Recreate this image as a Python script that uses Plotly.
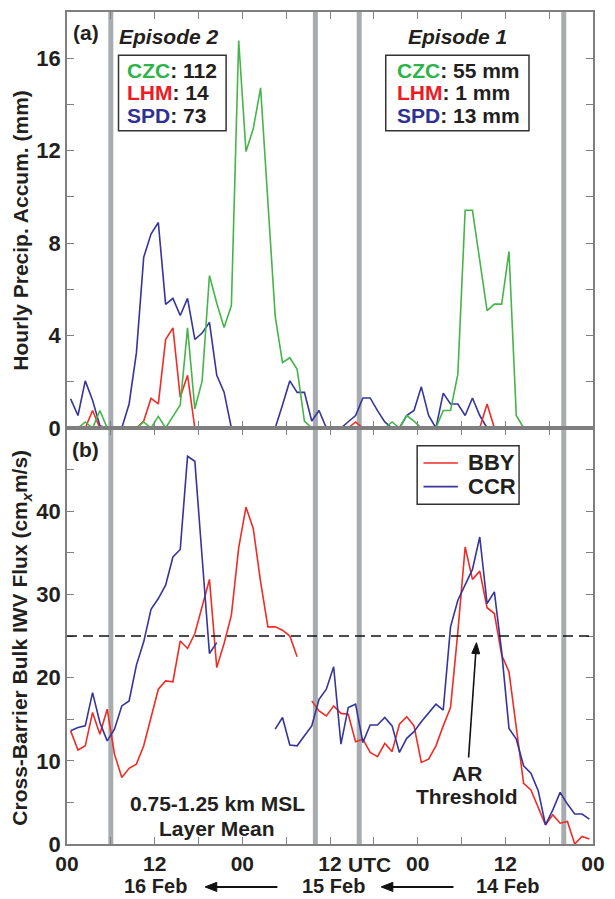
import plotly.graph_objects as go
from plotly.subplots import make_subplots

# ---------------- data ----------------
# time axis: hours before 17 Feb 00 UTC (time runs right -> left); values are hourly, centred on the half hour
hours = [k + 0.5 for k in range(72)]

x_tickvals = [0, 12, 24, 36, 48, 60, 72]
x_ticktext = ["00", "12", "00", "12", "00", "12", "00"]

# Panel (a): hourly precipitation accumulation (mm)
spd = [1.26, 0.54, 2.04, 1.2, 0.1, 0, 0, 0, 1.04, 3.25,
       7.39, 8.39, 8.89, 5.35, 5.61, 4.87, 5.61, 3.83, 4.11, 4.57,
       2.28, 1.55, 0, 0, 0, 0, 0, 0, 0, 1.0,
       2.04, 1.54, 1.54, 0.3, 0.76, 0, 0, 0, 0.27, 0.54,
       1.3, 1.3, 0.75, 0.26, 0, 0, 0.54, 0.76, 1.78, 0.54,
       0, 1.51, 1.04, 1.04, 0.54, 1.3, 0.54, 0, 0, 0,
       0, 0, 0, 0, 0, 0, 0, 0, 0, 0,
       0, 0]
lhm = [0, 0, 0, 0.76, 0, 0, 0, 0, 0, 0,
       0.3, 1.28, 1.04, 3.83, 4.33, 1.33, 2.28, 0, 0, 0,
       0, 0, 0, 0, 0, 0, 0, 0, 0, 0,
       0, 0, 0, 0, 0, 0, 0, 0, 0, 0.26,
       0, 0, 0, 0, 0, 0, 0, 0, 0, 0,
       0, 0, 0, 0, 0, 0, 0, 1.04, 0, 0,
       0, 0, 0, 0, 0, 0, 0, 0, 0, 0,
       0, 0]
czc = [0, 0, 0.26, 0, 0.76, 0, 0, 0, 0, 0,
       0.26, 0, 0.5, 0, 0.5, 1.0, 4.33, 0.83, 2.04, 6.6,
       5.4, 4.35, 5.3, 16.77, 11.96, 12.96, 14.72, 9.8, 4.83, 2.83,
       3.04, 2.54, 0.3, 0, 0, 0, 0, 0, 0, 0,
       0, 0, 0, 0, 0.26, 0, 0.54, 0.3, 0, 0,
       0, 0.76, 0.76, 2.33, 9.42, 9.42, 7.3, 5.08, 5.36, 5.36,
       7.64, 0.54, 0, 0, 0, 0, 0, 0, 0, 0,
       0, 0]

# Panel (b): cross-barrier bulk IWV flux (cm x m/s)
bby = [13.6, 11.3, 11.8, 15.8, 13.2, 16.2, 10.8, 8.0, 9.1, 9.6,
       11.8, 15.2, 18.6, 19.6, 19.5, 24.4, 23.5, 25.3, 28.5, 31.8,
       21.2, 24.1, 27.5, 35.6, 40.5, 37.9, 31.5, 26.1, 26.1, 25.7,
       25.0, 22.5, None, 17.2, 16.0, 15.4, 16.6, 15.7, 15.6, 12.3,
       12.6, 11.0, 10.5, 12.1, 11.1, 14.4, 15.3, 14.2, 9.8, 10.2,
       11.8, 14.2, 16.4, 25.5, 35.7, 31.8, 32.8, 28.4, 27.7, 22.7,
       20.7, 14.0, 7.3, 6.5, 4.3, 2.3, 3.5, 2.5, 2.7, 0.0,
       0.9, 0.6]
ccr = [13.6, 14.0, 14.2, 18.2, 14.6, 12.4, 13.8, 16.6, 17.2, 21.5,
       24.3, 28.2, 29.5, 31.1, 34.5, 35.4, 46.6, 46.0, 34.4, 22.9,
       24.2, None, None, None, None, None, None, None, 13.8, 15.2,
       11.9, 11.8, 13.0, 14.2, 17.4, 18.6, 21.3, 12.0, 16.4, 16.8,
       12.2, 14.3, 14.3, 15.2, 14.2, 11.0, 12.7, 13.5, 14.7, 15.8,
       16.8, 16.1, 26.1, 29.3, 31.1, 33.0, 36.9, 28.9, 30.3, 23.1,
       13.9, 12.6, 9.4, 8.5, 6.4, 2.3, 4.1, 6.2, 4.8, 3.6,
       3.6, 3.0]

ar_threshold = 25
grey_bars = [6, 34, 40, 68]

ep2_totals = [("CZC", "112"), ("LHM", "14"), ("SPD", "73")]
ep1_totals = [("CZC", "55 mm"), ("LHM", "1 mm"), ("SPD", "13 mm")]
date_labels = [("16 Feb", 12.1), ("15 Feb", 36.5), ("14 Feb", 60.3)]

# ---------------- style ----------------
FONT = "Liberation Sans"
TXT = "#231f20"
GREEN, RED, BLUE = "#45b549", "#ef2d26", "#35359b"
LBL = {"CZC": "#2db34a", "LHM": "#ed1c24", "SPD": "#2e3192"}
AXC = "#7f7f7f"
BARC = "#a8acaf"
ARR = "#111111"

fig = make_subplots(rows=2, cols=1, shared_xaxes=False, vertical_spacing=0)

for name, ys, col in [("SPD", spd, BLUE), ("LHM", lhm, RED), ("CZC", czc, GREEN)]:
    fig.add_trace(go.Scatter(x=hours, y=ys, mode="lines", name=name,
                             line=dict(color=col, width=1.6), showlegend=False),
                  row=1, col=1)

fig.add_trace(go.Scatter(x=hours, y=bby, mode="lines", name="BBY", showlegend=False,
                         line=dict(color=RED, width=1.6), connectgaps=False), row=2, col=1)
fig.add_trace(go.Scatter(x=hours, y=ccr, mode="lines", name="CCR", showlegend=False,
                         line=dict(color=BLUE, width=1.6), connectgaps=False), row=2, col=1)

xcommon = dict(range=[0, 72], tickvals=x_tickvals, ticktext=x_ticktext,
               ticks="inside", ticklen=7, tickwidth=1.2, tickcolor=AXC,
               minor=dict(dtick=6, tick0=0, ticks="inside", ticklen=7, tickcolor=AXC, tickwidth=1.2),
               showline=True, linecolor=AXC, linewidth=1.5, mirror="ticks",
               showgrid=False, zeroline=False,
               tickfont=dict(family=FONT, size=21, color=TXT, weight="bold"))
fig.update_xaxes(**xcommon)
fig.update_xaxes(showticklabels=False, row=1, col=1)

ycommon = dict(ticks="inside", ticklen=7, tickwidth=1.2, tickcolor=AXC,
               showline=True, linecolor=AXC, linewidth=1.5, mirror="ticks",
               showgrid=False, zeroline=False,
               tickfont=dict(family=FONT, size=22, color=TXT, weight="bold"))
fig.update_yaxes(**ycommon)
fig.update_yaxes(range=[0, 18], tickvals=[0, 4, 8, 12, 16],
                 minor=dict(dtick=2, tick0=0, ticks="inside", ticklen=7, tickcolor=AXC, tickwidth=1.2),
                 row=1, col=1)
fig.update_yaxes(range=[0, 50], tickvals=[0, 10, 20, 30, 40],
                 minor=dict(dtick=5, tick0=0, ticks="inside", ticklen=7, tickcolor=AXC, tickwidth=1.2),
                 row=2, col=1)

shapes = []
for gb in grey_bars:
    shapes.append(dict(type="line", xref="x", yref="paper", x0=gb, x1=gb, y0=0, y1=1,
                       line=dict(color=BARC, width=5), layer="below"))
shapes.append(dict(type="line", xref="x2", yref="y2", x0=0, x1=72, y0=ar_threshold, y1=ar_threshold,
                   line=dict(color=ARR, width=1.5, dash="10px,6px")))
# episode total boxes
shapes.append(dict(type="rect", xref="x", yref="y", x0=7.05, x1=21.78, y0=12.86, y1=16.13,
                   line=dict(color="#333333", width=1.5), fillcolor="white"))
shapes.append(dict(type="rect", xref="x", yref="y", x0=43.63, x1=63.24, y0=12.86, y1=16.13,
                   line=dict(color="#333333", width=1.5), fillcolor="white"))
# legend box (panel b)
shapes.append(dict(type="rect", xref="x2", yref="y2", x0=47.93, x1=61.88, y0=40.83, y1=47.86,
                   line=dict(color="#333333", width=1.5), fillcolor="white"))
shapes.append(dict(type="line", xref="x2", yref="y2", x0=48.8, x1=53.5, y0=45.8, y1=45.8,
                   line=dict(color=RED, width=1.6)))
shapes.append(dict(type="line", xref="x2", yref="y2", x0=48.8, x1=53.5, y0=42.95, y1=42.95,
                   line=dict(color=BLUE, width=1.6)))
# "AR Threshold" arrow (shaft + head)
shapes.append(dict(type="line", xref="x2", yref="y2", x0=54.97, y0=10.4, x1=55.947, y1=22.9,
                   line=dict(color=ARR, width=1.6)))
shapes.append(dict(type="path", xref="x2", yref="y2",
                   path="M 56.05,24.2 L 56.488,22.851 L 55.406,22.918 Z",
                   fillcolor=ARR, line=dict(color=ARR, width=1)))
# date arrows below the x axis (pointing to earlier-to-later direction: leftward)
arrow_y = -43 / 834
for head, tail in [(18.9, 28.8), (43.0, 52.9)]:
    shapes.append(dict(type="line", xref="x2", yref="paper", x0=head + 1.2, x1=tail,
                       y0=arrow_y, y1=arrow_y, line=dict(color=ARR, width=2)))
    shapes.append(dict(type="path", xref="x2", yref="paper",
                       path=f"M {head},{arrow_y} L {head + 1.6},{arrow_y + 0.0055} "
                            f"L {head + 1.6},{arrow_y - 0.0055} Z",
                       fillcolor=ARR, line=dict(color=ARR, width=1)))

def T(size=21, italic=False):
    return dict(family=FONT, size=size, color=TXT, weight="bold",
                style="italic" if italic else "normal")

ann = []
ann.append(dict(xref="x", yref="y", x=2.54, y=17.1, text="(a)", showarrow=False, font=T()))
ann.append(dict(xref="x2", yref="y2", x=2.54, y=47.4, text="(b)", showarrow=False, font=T()))
ann.append(dict(xref="x", yref="y", x=14.0, y=16.96, text="Episode 2", showarrow=False, font=T(italic=True)))
ann.append(dict(xref="x", yref="y", x=53.44, y=16.96, text="Episode 1", showarrow=False, font=T(italic=True)))
line_y = [15.46, 14.5, 13.53]
for (st, v), yy in zip(ep2_totals, line_y):
    ann.append(dict(xref="x", yref="y", x=8.0, y=yy, xanchor="left", showarrow=False, font=T(),
                    text=f"<span style='color:{LBL[st]}'>{st}</span>: {v}"))
for (st, v), yy in zip(ep1_totals, line_y):
    ann.append(dict(xref="x", yref="y", x=44.95, y=yy, xanchor="left", showarrow=False, font=T(),
                    text=f"<span style='color:{LBL[st]}'>{st}</span>: {v}"))
# legend labels
ann.append(dict(xref="x2", yref="y2", x=54.6, y=45.8, xanchor="left", text="BBY", showarrow=False, font=T(22)))
ann.append(dict(xref="x2", yref="y2", x=54.6, y=42.95, xanchor="left", text="CCR", showarrow=False, font=T(22)))

ann.append(dict(xref="x2", yref="y2", x=20.6, y=4.85, text="0.75-1.25 km MSL", showarrow=False, font=T()))
ann.append(dict(xref="x2", yref="y2", x=20.5, y=1.87, text="Layer Mean", showarrow=False, font=T()))
ann.append(dict(xref="x2", yref="y2", x=54.7, y=8.43, text="AR", showarrow=False, font=T()))
ann.append(dict(xref="x2", yref="y2", x=54.7, y=5.7, text="Threshold", showarrow=False, font=T()))
# axis titles
ann.append(dict(xref="paper", yref="y", x=0, xshift=-46, xanchor="center", yanchor="middle",
                y=8.54, textangle=-90, showarrow=False,
                text="Hourly Precip. Accum. (mm)", font=T()))
ann.append(dict(xref="paper", yref="y2", x=0, xshift=-46, xanchor="center", yanchor="middle",
                y=24.8, textangle=-90, showarrow=False,
                text="Cross-Barrier Bulk IWV Flux (cm<sub><i>x</i></sub>m/s)", font=T()))
# x-axis extras (below the plot, paper coordinates)
ann.append(dict(xref="x2", yref="paper", x=38.25, y=0, yshift=-20, xanchor="left", yanchor="middle",
                text="UTC", showarrow=False, font=T(21)))
for lab, xx in date_labels:
    ann.append(dict(xref="x2", yref="paper", x=xx, y=0, yshift=-55, yanchor="bottom",
                    text=lab, showarrow=False, font=T(20)))

fig.update_layout(
    width=615, height=899,
    margin=dict(l=67, r=16, t=10, b=55),
    paper_bgcolor="white", plot_bgcolor="white",
    shapes=shapes, annotations=ann,
    showlegend=False,
)

fig.write_html("out.html")
